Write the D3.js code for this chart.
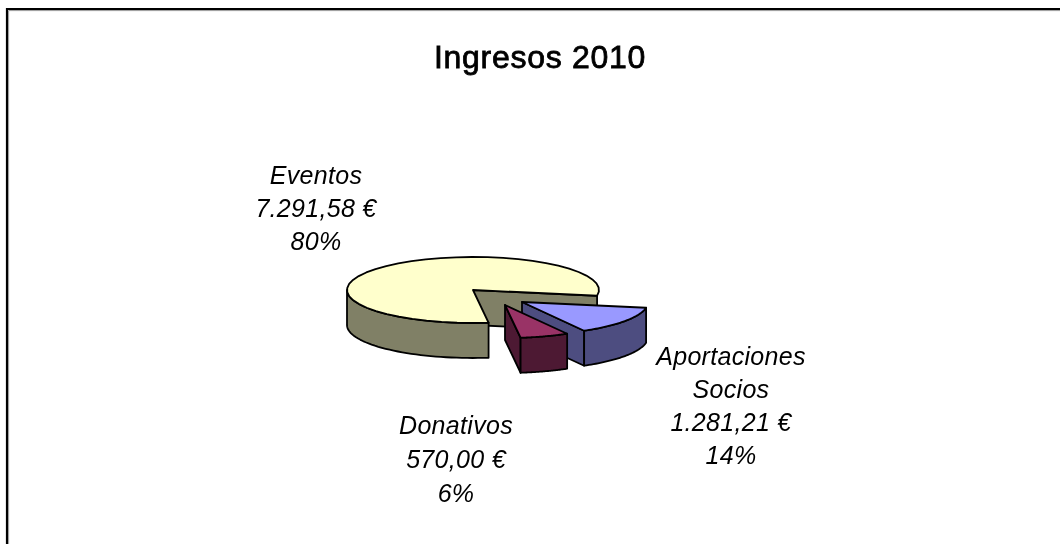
<!DOCTYPE html>
<html><head><meta charset="utf-8">
<script src="https://cdn.jsdelivr.net/npm/d3@7"></script>
<style>html,body{margin:0;padding:0;background:#fff;overflow:hidden}svg{display:block;filter:blur(0.4px)}
text{font-family:"Liberation Sans",Arial,sans-serif;fill:#000}</style></head>
<body><svg id="c" width="1060" height="544"></svg>
<script>
const categories = ["Aportaciones Socios", "Donativos", "Eventos"];
const values = [1281.21, 570.00, 7291.58];
const amountLabels = ["1.281,21 €", "570,00 €", "7.291,58 €"];
const percentLabels = ["14%", "6%", "80%"];
const titleText = "Ingresos 2010";
const topColors = ["#9999FF", "#993366", "#FFFFCC"];
const sideColors = ["#4D4D80", "#4D1933", "#808066"];

const svg = d3.select("#c");
const cx = 473, cy = 290, rx = 126, ry = 33, depth = 35;
const explode = [[49, 12], [32, 15], [0, 0]];
const labelPos = [[731, 357, 33], [456, 426, 34], [316, 176, 33]];
const drawOrder = [2, 0, 1];
const rad = d => d * Math.PI / 180;

// frame: top and left edges only, with a grey inner shadow
svg.append("path").attr("d", "M7,544V9H1060").attr("fill", "none").attr("stroke", "#000").attr("stroke-width", 2.2);
svg.append("path").attr("d", "M8.6,544V10.6H1060").attr("fill", "none").attr("stroke", "#999").attr("stroke-width", 1);

svg.append("text").attr("x", 540).attr("y", 68).attr("text-anchor", "middle")
  .attr("font-size", 32).attr("letter-spacing", 0.7).attr("stroke", "#000").attr("stroke-width", 0.8).text(titleText);

const arcs = d3.pie().sort(null).startAngle(rad(100)).endAngle(rad(460))(values);

const proj = (t, ox, oy, dz = 0) => [cx + ox + rx * Math.sin(t), cy + oy - ry * Math.cos(t) + dz];
const samples = (a, b) => d3.range(0, 41).map(i => a + (b - a) * i / 40);
const line = d3.line();
const style = (sel, fill) => sel.attr("fill", fill).attr("stroke", "#000").attr("stroke-width", 1.8).attr("stroke-linejoin", "round");

drawOrder.forEach(i => {
  const d = arcs[i];
  const [ox, oy] = explode[i];
  const g = svg.append("g");
  const apex = [cx + ox, cy + oy], apexB = [cx + ox, cy + oy + depth];
  const a0 = d.startAngle, a1 = d.endAngle;
  // visible cut face at the end of each slice
  style(g.append("path"), sideColors[i]).attr("d", line([apex, proj(a1, ox, oy), proj(a1, ox, oy, depth), apexB]) + "Z");
  // outer rim: only the part on the front half of the ellipse
  const from = Math.max(a0, rad(90)), to = Math.min(a1, rad(270));
  const rimTop = samples(from, to).map(t => proj(t, ox, oy));
  const rimBottom = samples(to, from).map(t => proj(t, ox, oy, depth));
  style(g.append("path"), sideColors[i]).attr("d", line(rimTop.concat(rimBottom)) + "Z");
  // top face
  const topPts = [apex].concat(samples(a0, a1).map(t => proj(t, ox, oy)));
  style(g.append("path"), topColors[i]).attr("d", line(topPts) + "Z");
});

categories.forEach((c, i) => {
  const [x, y, lh] = labelPos[i];
  const lines = (i === 0 ? c.split(" ") : [c]).concat([amountLabels[i], percentLabels[i]]);
  lines.forEach((s, k) => svg.append("text").attr("x", x).attr("y", y + 8 + k * lh)
    .attr("text-anchor", "middle").attr("font-size", 25).attr("letter-spacing", 0.3).attr("font-style", "italic").attr("fill", "#111").text(s));
});
</script></body></html>
